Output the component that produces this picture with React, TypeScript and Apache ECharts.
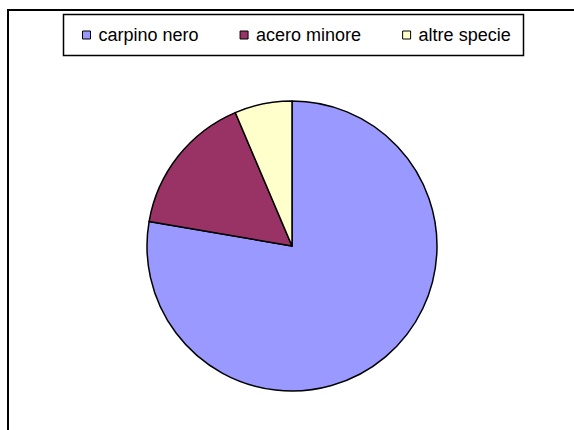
import React, { useEffect, useRef } from "react";
import * as echarts from "echarts";

const categories = ["carpino nero", "acero minore", "altre specie"];
const values = [77.7, 15.9, 6.4];
const colors = ["#9999FF", "#993366", "#FFFFCC"];

export default function App() {
  const ref = useRef<HTMLDivElement>(null);
  useEffect(() => {
    if (!ref.current) return;
    const chart = echarts.init(ref.current, null, { renderer: "svg" });
    chart.setOption({
      animation: false,
      backgroundColor: "#ffffff",
      graphic: [
        {
          type: "rect",
          shape: { x: 8, y: 10, width: 620, height: 500 },
          style: { fill: "none", stroke: "#000000", lineWidth: 2 },
          z: 0,
        },
        {
          type: "rect",
          shape: { x: 63.5, y: 14.5, width: 460, height: 41 },
          style: { fill: "#ffffff", stroke: "#000000", lineWidth: 1.5 },
          z: 0,
        },
      ],
      legend: {
        data: categories,
        left: 82,
        top: 26,
        orient: "horizontal",
        icon: "rect",
        itemWidth: 8,
        itemHeight: 8,
        itemGap: 41,
        padding: 0,
        z: 10,
        itemStyle: { borderColor: "#000000", borderWidth: 1 },
        textStyle: {
          fontFamily: "Liberation Sans, Arial, sans-serif",
          fontSize: 18,
          color: "#000000",
          padding: [0, 0, 0, 3],
        },
      },
      series: [
        {
          type: "pie",
          center: [292, 246],
          radius: 145,
          startAngle: 90,
          clockwise: true,
          label: { show: false },
          labelLine: { show: false },
          emphasis: { disabled: true },
          itemStyle: { borderColor: "#000000", borderWidth: 1.5 },
          data: categories.map((name, i) => ({
            name,
            value: values[i],
            itemStyle: { color: colors[i] },
          })),
        },
      ],
    });
    return () => chart.dispose();
  }, []);
  return (
    <div
      ref={ref}
      style={{ position: "fixed", left: 0, top: 0, width: 574, height: 430 }}
    />
  );
}
